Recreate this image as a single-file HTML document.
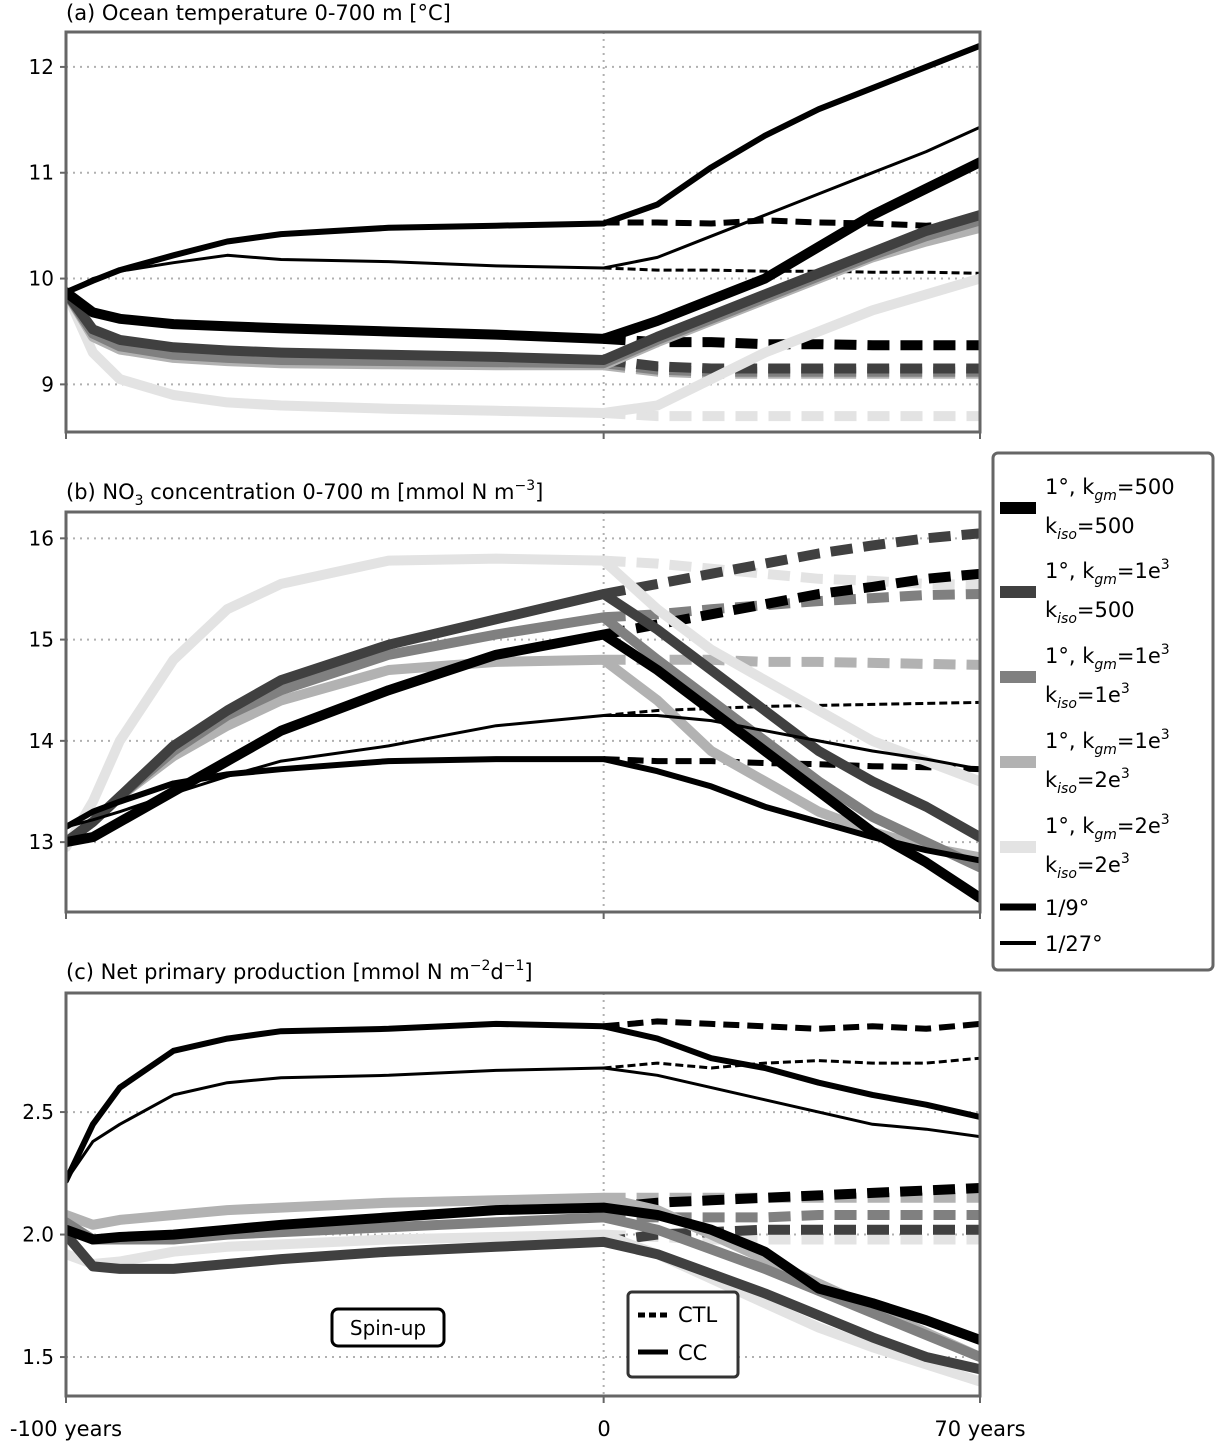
<!DOCTYPE html>
<html><head><meta charset="utf-8"><style>
body{margin:0;background:#fff;font-family:"Liberation Sans","DejaVu Sans",sans-serif}
svg text{font-family:"DejaVu Sans","Liberation Sans",sans-serif}
</style></head><body>
<svg id="c" width="1216" height="1443" xmlns="http://www.w3.org/2000/svg"></svg>
<script>
// ---- data ----
const spinYears=[-100,-95,-90,-80,-70,-60,-40,-20,0];
const ccYears=[0,10,20,30,40,50,60,70];
const ctlYears=[0,10,20,30,40,50,60,70];
const seriesKeys=["vlight","lgray","gray","dgray","k1","k9","k27"];
// Panel a: temperature
const aSpin={vlight:[9.87,9.3,9.05,8.9,8.83,8.8,8.77,8.75,8.73],lgray:[9.87,9.45,9.33,9.25,9.22,9.2,9.19,9.18,9.18],gray:[9.87,9.48,9.36,9.28,9.25,9.23,9.22,9.21,9.2],dgray:[9.87,9.52,9.42,9.35,9.32,9.3,9.28,9.26,9.23],k1:[9.87,9.68,9.62,9.57,9.55,9.53,9.5,9.47,9.43],k9:[9.87,9.98,10.08,10.22,10.35,10.42,10.48,10.5,10.52],k27:[9.87,10.0,10.07,10.15,10.22,10.18,10.16,10.12,10.1]};
const aCC={vlight:[8.73,8.8,9.05,9.3,9.5,9.7,9.85,10.0],lgray:[9.18,9.4,9.6,9.8,10.0,10.2,10.35,10.48],gray:[9.2,9.42,9.62,9.82,10.02,10.22,10.4,10.55],dgray:[9.23,9.45,9.65,9.85,10.05,10.25,10.45,10.6],k1:[9.43,9.6,9.8,10.0,10.3,10.6,10.85,11.1],k9:[10.53,10.7,11.05,11.35,11.6,11.8,12.0,12.2],k27:[10.1,10.2,10.4,10.6,10.8,11.0,11.2,11.43]};
const aCTL={vlight:[8.73,8.7,8.7,8.7,8.7,8.7,8.7,8.7],lgray:[9.18,9.12,9.1,9.1,9.1,9.1,9.1,9.1],gray:[9.2,9.14,9.12,9.12,9.12,9.12,9.12,9.12],dgray:[9.23,9.17,9.15,9.15,9.15,9.15,9.15,9.15],k1:[9.43,9.4,9.4,9.38,9.38,9.37,9.37,9.37],k9:[10.53,10.53,10.52,10.55,10.53,10.52,10.5,10.53],k27:[10.1,10.08,10.08,10.07,10.07,10.06,10.06,10.05]};
// Panel b: NO3
const bSpin={vlight:[12.95,13.4,14.0,14.8,15.3,15.55,15.78,15.8,15.78],lgray:[13.0,13.2,13.45,13.85,14.15,14.4,14.7,14.78,14.8],gray:[13.0,13.2,13.45,13.9,14.25,14.5,14.85,15.05,15.22],dgray:[13.0,13.2,13.45,13.95,14.3,14.6,14.95,15.2,15.45],k1:[13.0,13.05,13.2,13.5,13.8,14.1,14.5,14.85,15.05],k9:[13.15,13.3,13.4,13.58,13.67,13.72,13.8,13.82,13.82],k27:[13.15,13.22,13.3,13.48,13.65,13.8,13.95,14.15,14.25]};
const bCC={vlight:[15.78,15.3,14.9,14.6,14.3,14.0,13.8,13.6],lgray:[14.8,14.4,13.9,13.6,13.3,13.1,12.95,12.85],gray:[15.22,14.8,14.4,14.0,13.6,13.25,13.0,12.75],dgray:[15.45,15.1,14.7,14.3,13.9,13.6,13.35,13.05],k1:[15.05,14.7,14.3,13.9,13.5,13.1,12.8,12.45],k9:[13.82,13.7,13.55,13.35,13.2,13.05,12.92,12.82],k27:[14.25,14.25,14.2,14.1,14.0,13.9,13.82,13.72]};
const bCTL={vlight:[15.78,15.75,15.7,15.65,15.6,15.58,15.55,15.54],lgray:[14.8,14.8,14.8,14.78,14.78,14.77,14.76,14.75],gray:[15.22,15.25,15.3,15.34,15.38,15.41,15.44,15.45],dgray:[15.45,15.55,15.65,15.75,15.85,15.93,16.0,16.05],k1:[15.05,15.15,15.25,15.35,15.45,15.52,15.6,15.65],k9:[13.82,13.8,13.8,13.78,13.77,13.75,13.74,13.72],k27:[14.25,14.3,14.32,14.34,14.35,14.36,14.37,14.38]};
// Panel c: NPP
const cSpin={vlight:[1.92,1.88,1.89,1.93,1.95,1.96,1.98,1.99,2.0],lgray:[2.08,2.04,2.06,2.08,2.1,2.11,2.13,2.14,2.15],gray:[2.05,1.98,1.98,1.98,2.0,2.01,2.03,2.05,2.07],dgray:[2.0,1.87,1.86,1.86,1.88,1.9,1.93,1.95,1.97],k1:[2.02,1.98,1.99,2.0,2.02,2.04,2.07,2.1,2.11],k9:[2.22,2.45,2.6,2.75,2.8,2.83,2.84,2.86,2.85],k27:[2.22,2.38,2.45,2.57,2.62,2.64,2.65,2.67,2.68]};
const cCC={vlight:[2.0,1.92,1.82,1.72,1.62,1.54,1.47,1.4],lgray:[2.15,2.1,2.0,1.9,1.8,1.7,1.6,1.5],gray:[2.07,2.02,1.94,1.86,1.77,1.68,1.59,1.5],dgray:[1.97,1.92,1.84,1.76,1.67,1.58,1.5,1.45],k1:[2.11,2.08,2.02,1.93,1.78,1.72,1.65,1.57],k9:[2.85,2.8,2.72,2.68,2.62,2.57,2.53,2.48],k27:[2.68,2.65,2.6,2.55,2.5,2.45,2.43,2.4]};
const cCTL={vlight:[2.0,1.99,1.98,1.98,1.98,1.98,1.98,1.98],lgray:[2.15,2.15,2.15,2.15,2.15,2.15,2.15,2.15],gray:[2.07,2.07,2.07,2.07,2.08,2.08,2.08,2.08],dgray:[1.97,2.0,2.01,2.02,2.02,2.02,2.02,2.02],k1:[2.11,2.13,2.14,2.15,2.16,2.17,2.18,2.19],k9:[2.85,2.87,2.86,2.85,2.84,2.85,2.84,2.86],k27:[2.68,2.7,2.68,2.7,2.71,2.7,2.7,2.72]};
const aTicks=[9,10,11,12], bTicks=[13,14,15,16], cTicks=[1.5,2.0,2.5];
const styles={vlight:["#e3e3e3",10],lgray:["#b2b2b2",10],gray:["#808080",10],dgray:["#404040",10],k1:["#000",10],k9:["#000",6],k27:["#000",3]};
// ---- drawing ----
const svg=document.getElementById('c');const NS="http://www.w3.org/2000/svg";
function el(t,a,p){const e=document.createElementNS(NS,t);for(const k in a)e.setAttribute(k,a[k]);(p||svg).appendChild(e);return e;}
const X0=66,X1=980;function xs(y){return X0+(y+100)/170*(X1-X0);}
const panels=[
 {name:"temperature",top:32,bot:432,vmin:8.55,vmax:12.33,ticks:aTicks,fmt:v=>String(v),spin:aSpin,cc:aCC,ctl:aCTL},
 {name:"no3",top:512,bot:912,vmin:12.31,vmax:16.26,ticks:bTicks,fmt:v=>String(v),spin:bSpin,cc:bCC,ctl:bCTL},
 {name:"npp",top:993,bot:1396,vmin:1.341,vmax:2.986,ticks:cTicks,fmt:v=>v.toFixed(1),spin:cSpin,cc:cCC,ctl:cCTL}];
panels.forEach((p,i)=>{
 const ys=v=>p.bot-(v-p.vmin)/(p.vmax-p.vmin)*(p.bot-p.top);
 const g=el('g',{});
 
 
 p.ticks.forEach(t=>{
  const gl=el('line',{x1:X0,x2:X1,y1:ys(t),y2:ys(t),stroke:"#b0b0b0","stroke-width":2,"stroke-dasharray":"2,5"},g);
  
  
  el('line',{x1:X0-6,x2:X0,y1:ys(t),y2:ys(t),stroke:"#666","stroke-width":2},g);
  const tx=el('text',{x:X0-12,y:ys(t)+7,"text-anchor":"end","font-size":20},g);tx.textContent=p.fmt(t);
  
  
 });
 el('line',{x1:xs(0),x2:xs(0),y1:p.top,y2:p.bot,stroke:"#b0b0b0","stroke-width":2,"stroke-dasharray":"2,5"},g);
 [-100,0,70].forEach(t=>el('line',{x1:xs(t),x2:xs(t),y1:p.bot,y2:p.bot+7,stroke:"#666","stroke-width":2},g));
 const clip=el('clipPath',{id:'cl'+i},g);el('rect',{x:X0,y:p.top,width:X1-X0,height:p.bot-p.top},clip);
 const lg=el('g',{"clip-path":"url(#cl"+i+")"},g);
 const line=(xsArr,vals,key,dash)=>{
  const d=xsArr.map((y,j)=>(j?'L':'M')+xs(y).toFixed(1)+','+ys(vals[j]).toFixed(1)).join(' ');
  const st=styles[key];const w=st[1];
  const pa=el('path',{d:d,fill:"none",stroke:st[0],"stroke-width":w,"stroke-linejoin":"round","stroke-linecap":dash?"butt":"round"},lg);
  if(dash)pa.setAttribute('stroke-dasharray',w>=10?"22,11":(w>=6?"16,8":"8,4"));
  
  
 };
 seriesKeys.forEach(k=>{line(ctlYears,p.ctl[k],k,true);});
 seriesKeys.forEach(k=>{line(spinYears.concat(ccYears.slice(1)),p.spin[k].concat(p.cc[k].slice(1)),k,false);});
 el('rect',{x:X0,y:p.top,width:X1-X0,height:p.bot-p.top,fill:"none",stroke:"#666","stroke-width":3},g);
});
function txt(x,y,s,size,name,anchor){const t=el('text',{x:x,y:y,"font-size":size||20,"text-anchor":anchor||"start"});t.innerHTML=s;
 
 return t;}
txt(66,20,"(a) Ocean temperature 0-700 m [°C]",21,"title-a");
txt(66,499,'(b) NO<tspan font-size="14" dy="6">3</tspan><tspan dy="-6"> concentration 0-700 m [mmol N m</tspan><tspan font-size="14" dy="-9">−3</tspan><tspan dy="9">]</tspan>',21,"title-b");
txt(66,979,'(c) Net primary production [mmol N m<tspan font-size="14" dy="-9">−2</tspan><tspan dy="9">d</tspan><tspan font-size="14" dy="-9">−1</tspan><tspan dy="9">]</tspan>',21,"title-c");
txt(66,1436,"-100 years",21,"x-tick-label","middle");
txt(604,1436,"0",21,"x-tick-label","middle");
txt(980,1436,"70 years",21,"x-tick-label","middle");
const sb=el('rect',{x:332,y:1309,width:112,height:37,rx:6,fill:"#fff",stroke:"#000","stroke-width":3});


txt(388,1335,"Spin-up",20,"spin-up-label","middle");
const lb=el('rect',{x:628,y:1292,width:110,height:85,rx:4,fill:"#fff",stroke:"#333","stroke-width":3});


el('line',{x1:638,x2:668,y1:1315,y2:1315,stroke:"#000","stroke-width":5,"stroke-dasharray":"7,4"});
el('line',{x1:638,x2:668,y1:1352,y2:1352,stroke:"#000","stroke-width":5});
txt(678,1322,"CTL",21,"legend-ctl");txt(678,1360,"CC",21,"legend-cc");
const mb=el('rect',{x:993,y:453,width:220,height:517,rx:5,fill:"#fff",stroke:"#666","stroke-width":3});


const SG="<tspan font-size='14' font-style='italic' dy='6'>gm</tspan><tspan dy='-6'>";
const SI="<tspan font-size='14' font-style='italic' dy='6'>iso</tspan><tspan dy='-6'>";
const SUP3="<tspan font-size='14' dy='-9'>3</tspan>";
const entries=[["k1","1°, k"+SG+"=500</tspan>","k"+SI+"=500</tspan>",508],
["dgray","1°, k"+SG+"=1e</tspan>"+SUP3,"k"+SI+"=500</tspan>",592],
["gray","1°, k"+SG+"=1e</tspan>"+SUP3,"k"+SI+"=1e</tspan>"+SUP3,677],
["lgray","1°, k"+SG+"=1e</tspan>"+SUP3,"k"+SI+"=2e</tspan>"+SUP3,762],
["vlight","1°, k"+SG+"=2e</tspan>"+SUP3,"k"+SI+"=2e</tspan>"+SUP3,847]];
entries.forEach(e=>{const st=styles[e[0]];
 const l=el('line',{x1:1000,x2:1036,y1:e[3],y2:e[3],stroke:st[0],"stroke-width":12});
 
 
 txt(1045,e[3]-14,e[1],21,"legend-entry");txt(1045,e[3]+25,e[2],21,"legend-entry");});
el('line',{x1:1000,x2:1036,y1:907,y2:907,stroke:"#000","stroke-width":7});
txt(1045,915,"1/9°",21,"legend-entry");
el('line',{x1:1000,x2:1036,y1:943,y2:943,stroke:"#000","stroke-width":4});
txt(1045,951,"1/27°",21,"legend-entry");
</script>
</body></html>
